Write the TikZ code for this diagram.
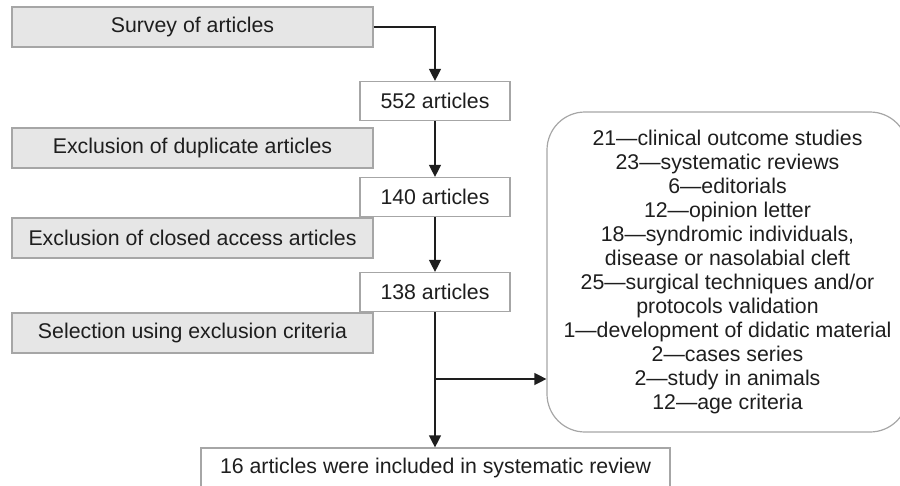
\documentclass[tikz,border=0pt]{standalone}
\usepackage{fontspec}
\setmainfont{Liberation Sans}
\usetikzlibrary{arrows.meta}
\definecolor{boxgray}{HTML}{E6E6E6}
\definecolor{edgegray}{HTML}{A6A6A6}
\definecolor{ink}{HTML}{1E1E1E}
\begin{document}
\begin{tikzpicture}[x=1pt,y=-1pt,
  every node/.style={font=\fontsize{21.3}{24}\selectfont, text=ink, inner sep=0pt},
  graybox/.style={draw=edgegray, fill=boxgray, line width=1.2pt, minimum width=361pt, minimum height=40pt},
  countbox/.style={draw=edgegray, fill=white, line width=1.2pt, minimum width=150pt, minimum height=39pt},
  flow/.style={draw=ink, line width=1.3pt, -{Triangle[length=12pt,width=12pt]}}
]
\useasboundingbox (0,0) rectangle (900,485);
\node[graybox] (survey) at (192.5,27) {Survey of articles};
\node[graybox] (dup) at (192.5,148) {Exclusion of duplicate articles};
\node[graybox] (closed) at (192.5,238) {Exclusion of closed access articles};
\node[graybox] (select) at (192.5,333) {Selection using exclusion criteria};
\node[countbox] (n552) at (435,101) {552 articles};
\node[countbox] (n140) at (435,197) {140 articles};
\node[countbox] (n138) at (435,292) {138 articles};
\node[draw=edgegray, line width=1.2pt, minimum width=469pt, minimum height=40pt] (final) at (435.5,468) {16 articles were included in systematic review};
\node[draw=edgegray, line width=1.2pt, rounded corners=38pt, minimum width=361pt, minimum height=320pt, align=center] (excl) at (727.5,272)
  {21---clinical outcome studies\\23---systematic reviews\\6---editorials\\12---opinion letter\\18---syndromic individuals,\\disease or nasolabial cleft\\25---surgical techniques and/or\\protocols validation\\1---development of didatic material\\2---cases series\\2---study in animals\\12---age criteria};
\coordinate (branch) at (435,379);
\draw[flow] (survey.east) -| (n552.north);
\draw[flow] (n552.south) -- (n140.north);
\draw[flow] (n140.south) -- (n138.north);
\draw[flow] (n138.south) -- (final.north -| n138.south);
\draw[flow] (branch) -- (branch -| excl.west);
\end{tikzpicture}
\end{document}
